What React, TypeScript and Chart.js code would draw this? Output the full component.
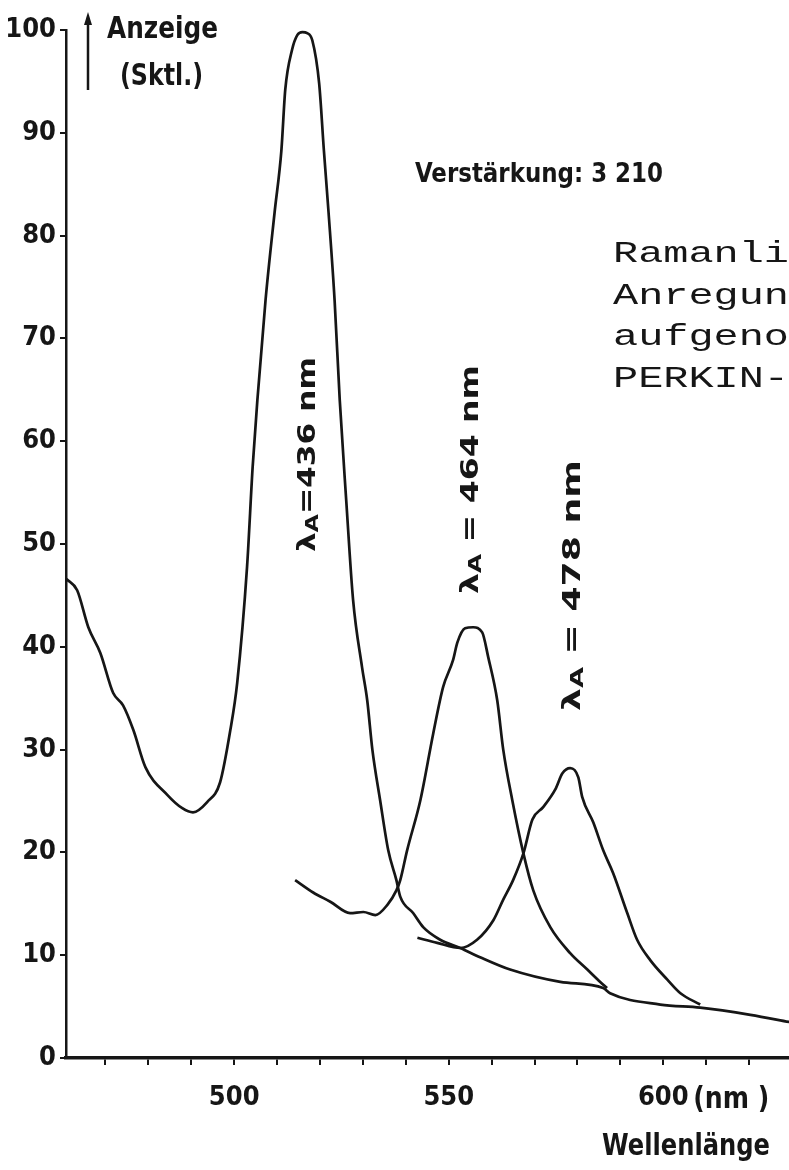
import React, { useEffect, useRef } from "react";
import { Chart, registerables } from "chart.js";

Chart.register(...registerables);

// Wavelength (nm) and reading (Skt.) of the three recorded scans
const scan436Nm = [460.9, 463.4, 466.0, 468.8, 471.8, 474.1, 476.5, 479.3, 484.4, 487.9, 490.4, 493.7, 496.7, 499.1, 500.7, 503.0, 504.3, 505.4, 507.3, 509.4, 511.0, 511.9, 513.5, 514.7, 515.9, 517.0, 518.2, 519.8, 520.9, 522.0, 523.4, 524.6, 526.1, 527.7, 529.8, 531.0, 532.2, 534.0, 535.9, 537.8, 538.7, 541.7, 544.1, 548.0, 552.7, 557.3, 564.3, 576.0, 586.0, 587.6, 599.3, 608.6, 620.3, 629.4];
const scan436Val = [46.6, 45.5, 41.9, 39.4, 35.5, 34.3, 31.9, 28.3, 25.6, 24.3, 23.9, 24.9, 26.8, 31.9, 36.5, 47.8, 57.5, 64.0, 73.7, 82.2, 88.3, 94.2, 98.1, 99.5, 99.8, 99.7, 99.0, 94.8, 88.3, 82.2, 73.7, 64.0, 54.3, 44.6, 38.0, 34.8, 30.0, 25.1, 20.2, 17.3, 15.7, 14.1, 12.7, 11.5, 10.7, 9.8, 8.6, 7.4, 6.8, 6.3, 5.2, 4.9, 4.2, 3.5];

const scan464Nm = [514.2, 518.4, 522.4, 527.0, 530.1, 532.9, 535.7, 537.8, 538.7, 540.3, 543.4, 546.4, 548.7, 551.0, 552.0, 553.8, 555.7, 557.8, 559.2, 561.3, 562.7, 564.8, 567.4, 569.7, 573.7, 578.3, 582.3, 585.3, 586.9];
const scan464Val = [17.3, 16.1, 15.2, 14.1, 14.2, 13.9, 14.9, 16.3, 17.3, 20.2, 25.1, 31.6, 36.1, 38.7, 40.4, 41.8, 41.9, 41.4, 39.0, 34.8, 30.0, 25.1, 19.9, 16.3, 12.7, 10.2, 8.6, 7.4, 6.8];

const scan478Nm = [542.7, 547.3, 552.7, 556.6, 560.4, 562.7, 565.0, 567.4, 569.5, 572.0, 574.8, 576.5, 578.3, 580.2, 581.1, 583.7, 586.0, 588.3, 591.6, 593.9, 597.0, 601.0, 604.0, 608.6];
const scan478Val = [11.7, 11.2, 10.7, 11.5, 13.4, 15.4, 17.3, 19.9, 23.2, 24.4, 26.1, 27.7, 28.2, 27.3, 25.4, 22.9, 20.2, 18.0, 14.1, 11.5, 9.5, 7.6, 6.3, 5.2];

// Axis ticks
const xTickValues = [470, 480, 490, 500, 510, 520, 530, 540, 550, 560, 570, 580, 590, 600, 610, 620];
const xTickLabels = [500, 550, 600];
const yTickValues = [0, 10, 20, 30, 40, 50, 60, 70, 80, 90, 100];

const INK = "#161616";
const LETTER = '"Liberation Sans Narrow", "DejaVu Sans Condensed", "Liberation Sans", sans-serif';
const MONO = '"Liberation Mono", "DejaVu Sans Mono", monospace';

const toPoints = (xs: number[], ys: number[]) => xs.map((x, i) => ({ x, y: ys[i] }));

// Draw a string stretched or squeezed horizontally to a given width
function fitText(ctx: CanvasRenderingContext2D, text: string, x: number, y: number, width: number, font: string) {
  ctx.save();
  ctx.font = font;
  const w = ctx.measureText(text).width;
  ctx.translate(x, y);
  ctx.scale(width / w, 1);
  ctx.textAlign = "left";
  ctx.textBaseline = "alphabetic";
  ctx.fillText(text, 0, 0);
  ctx.restore();
}

type Part = { t: string; size: number; dy?: number };

// Vertical label reading upward: baseline at baseX, from startY up to endY
function rotatedLabel(ctx: CanvasRenderingContext2D, parts: Part[], baseX: number, startY: number, endY: number) {
  ctx.save();
  let total = 0;
  const widths = parts.map((p) => {
    ctx.font = `bold ${p.size}px ${LETTER}`;
    const w = ctx.measureText(p.t).width;
    total += w;
    return w;
  });
  ctx.translate(baseX, startY);
  ctx.rotate(-Math.PI / 2);
  ctx.scale((startY - endY) / total, 1);
  ctx.textAlign = "left";
  ctx.textBaseline = "alphabetic";
  let cx = 0;
  parts.forEach((p, i) => {
    ctx.font = `bold ${p.size}px ${LETTER}`;
    ctx.fillText(p.t, cx, p.dy || 0);
    cx += widths[i];
  });
  ctx.restore();
}

const textLayer = {
  id: "textLayer",
  afterDraw(chart: any) {
    const ctx: CanvasRenderingContext2D = chart.ctx;
    const xs = chart.scales.x;
    ctx.save();
    ctx.fillStyle = INK;
    ctx.strokeStyle = INK;

    // value-axis caption with arrow
    ctx.lineWidth = 2.5;
    ctx.beginPath();
    ctx.moveTo(88, 90);
    ctx.lineTo(88, 22);
    ctx.stroke();
    ctx.beginPath();
    ctx.moveTo(88, 12);
    ctx.lineTo(84, 25);
    ctx.lineTo(92, 25);
    ctx.closePath();
    ctx.fill();
    fitText(ctx, "Anzeige", 107, 38, 111, `bold 30px ${LETTER}`);
    fitText(ctx, "(Sktl.)", 120, 85, 83, `bold 30px ${LETTER}`);

    fitText(ctx, "Verstärkung: 3 210", 415, 182, 248, `bold 26px ${LETTER}`);

    // typewritten note
    const noteLines = ["Ramanli", "Anregun", "aufgeno", "PERKIN-"];
    const noteBase = [262, 304, 345, 387];
    noteLines.forEach((s, i) => fitText(ctx, s, 613, noteBase[i], 176, `29px ${MONO}`));

    // excitation wavelength labels
    rotatedLabel(ctx, [{ t: "λ", size: 24 }, { t: "A", size: 18, dy: 3 }, { t: "=436 nm", size: 24 }], 315, 552, 357);
    rotatedLabel(ctx, [{ t: "λ", size: 24 }, { t: "A", size: 18, dy: 3 }, { t: " = 464 nm", size: 24 }], 478, 594, 365);
    rotatedLabel(ctx, [{ t: "λ", size: 24 }, { t: "A", size: 18, dy: 3 }, { t: " = 478 nm", size: 24 }], 580, 711, 460);

    // wavelength unit and axis title
    const p600 = xs.getPixelForValue(600);
    fitText(ctx, "(nm )", p600 + 30, 1108, 76, `bold 30px ${LETTER}`);
    fitText(ctx, "Wellenlänge", 602, 1155, 168, `bold 30px ${LETTER}`);
    ctx.restore();
  },
};

export default function App() {
  const ref = useRef<HTMLCanvasElement | null>(null);

  useEffect(() => {
    if (!ref.current) return;
    const lineStyle = {
      borderColor: INK,
      borderWidth: 2.7,
      pointRadius: 0,
      cubicInterpolationMode: "monotone",
      fill: false,
    };
    const chart = new Chart(ref.current, {
      type: "line",
      data: {
        datasets: [
          { label: "λA = 436 nm", data: toPoints(scan436Nm, scan436Val), ...lineStyle },
          { label: "λA = 464 nm", data: toPoints(scan464Nm, scan464Val), ...lineStyle },
          { label: "λA = 478 nm", data: toPoints(scan478Nm, scan478Val), ...lineStyle },
        ],
      },
      options: {
        animation: false,
        responsive: false,
        maintainAspectRatio: false,
        layout: { padding: { top: 30, right: 0, bottom: 0, left: 0 } },
        plugins: { legend: { display: false }, tooltip: { enabled: false } },
        scales: {
          x: {
            type: "linear",
            min: 460.8,
            max: 629.3,
            afterBuildTicks: (s: any) => {
              s.ticks = xTickValues.map((v) => ({ value: v }));
            },
            afterFit: (s: any) => {
              s.height = 112;
            },
            ticks: {
              autoSkip: false,
              maxRotation: 0,
              padding: 17,
              color: INK,
              font: { family: LETTER, size: 27, weight: "bold" },
              callback: (v: any) => (xTickLabels.includes(Number(v)) ? String(v) : ""),
            },
            grid: { drawOnChartArea: false, drawTicks: true, tickLength: 7, color: INK, lineWidth: 2 },
            border: { display: true, color: INK, width: 3.5 },
          },
          y: {
            min: 0,
            max: 100,
            afterBuildTicks: (s: any) => {
              s.ticks = yTickValues.map((v) => ({ value: v }));
            },
            afterFit: (s: any) => {
              s.width = 66;
            },
            ticks: {
              padding: 4,
              color: INK,
              font: { family: LETTER, size: 27, weight: "bold" },
              callback: (v: any) => String(v),
            },
            grid: { drawOnChartArea: false, drawTicks: true, tickLength: 6, color: INK, lineWidth: 2 },
            border: { display: true, color: INK, width: 2.5 },
          },
        },
      },
      plugins: [textLayer],
    } as any);
    return () => chart.destroy();
  }, []);

  return (
    <div style={{ position: "absolute", left: 0, top: 0, width: 789, height: 1170, overflow: "hidden", background: "#fff" }}>
      <canvas ref={ref} width={789} height={1170} style={{ display: "block" }} />
    </div>
  );
}
